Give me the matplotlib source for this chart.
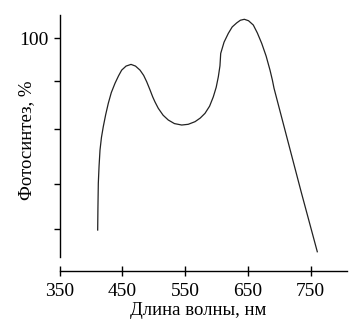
import numpy as np
import matplotlib.pyplot as plt

plt.rcParams['font.family'] = ['Liberation Serif', 'DejaVu Serif']

# wavelength (nm) and photosynthesis (%)
wavelength = [410.8, 411.2, 411.8, 413.0, 414.5, 416.8, 419.7, 423.5, 427.7, 432.5,
              438.4, 444.0, 449.0, 456.0, 463.9, 471.0, 478.2, 484.0, 488.9, 494.0,
              498.4, 502.0, 507.3, 515.0, 523.2, 533.0, 544.6, 555.0, 565.8, 574.0,
              581.7, 589.0, 594.9, 599.5, 602.9, 605.5, 606.7, 612.0, 618.8, 625.0,
              632.2, 638.0, 644.3, 651.0, 658.6, 665.0, 672.0, 679.0, 685.2, 689.0,
              691.6, 711.8, 735.0, 760.5]
photosynthesis = [19.7, 29.0, 39.3, 46.5, 53.2, 58.5, 63.0, 68.0, 72.8, 77.3,
                  81.2, 84.3, 86.7, 88.4, 89.1, 88.4, 86.7, 84.5, 81.8, 78.5,
                  75.5, 73.4, 70.7, 67.8, 65.8, 64.3, 63.7, 64.0, 65.1, 66.6,
                  68.6, 71.6, 75.5, 79.5, 83.9, 88.5, 93.7, 98.4, 102.1, 104.8,
                  106.5, 107.6, 108.0, 107.4, 105.6, 102.3, 97.9, 92.6, 86.7, 82.5,
                  79.1, 58.8, 35.5, 10.6]

xticks = [350, 450, 550, 650, 750]
yticks = [100, 82, 62, 39, 20]
ytick_labels = ['100', '', '', '', '']

fig = plt.figure(figsize=(3.62, 3.25), dpi=100)
W, H = 362, 325
ax = fig.add_axes([59.5 / W, 1 - 257 / H, (347 - 59.5) / W, (257 - 15) / H])

ax.plot(wavelength, photosynthesis, color='#222222', lw=0.9)

ax.set_xlim(350, 807.8)
ax.set_ylim(8.4, 109.8)

for s in ['top', 'right']:
    ax.spines[s].set_visible(False)
ax.spines['bottom'].set_position(('outward', 10.1))
for s in ['left', 'bottom']:
    ax.spines[s].set_linewidth(1.0)
    ax.spines[s].set_color('black')

ax.set_xticks(xticks)
ax.set_yticks(yticks)
ax.set_yticklabels(ytick_labels)
ax.tick_params(axis='x', direction='inout', length=7, width=1, pad=5, labelsize=14)
ax.tick_params(axis='y', direction='out', length=4, width=1, pad=4, labelsize=14)

ax.set_xlabel('Длина волны, нм', fontsize=13.5)
ax.set_ylabel('Фотосинтез, %', fontsize=13.5)
ax.xaxis.set_label_coords(0.482, -0.186)
ax.yaxis.set_label_coords(-0.085, 0.483)

fig.savefig('out.png', dpi=100)
